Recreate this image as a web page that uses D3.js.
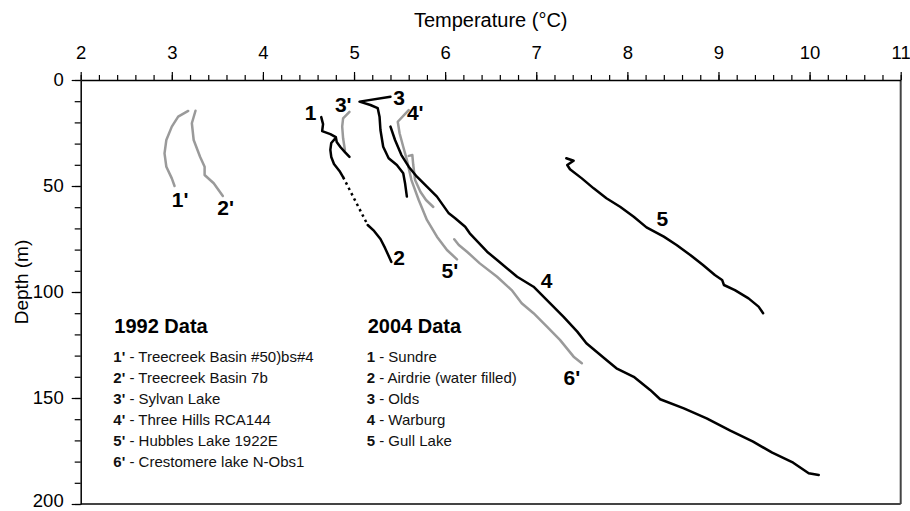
<!DOCTYPE html>
<html>
<head>
<meta charset="utf-8">
<script src="https://cdn.jsdelivr.net/npm/d3@7"></script>
<style>
  html, body { margin: 0; padding: 0; background: #fff; }
  svg { display: block; font-family: "Liberation Sans", Arial, Helvetica, sans-serif; }
</style>
</head>
<body>
<svg id="chart" width="910" height="511"></svg>
<script>
// ---------- DATA (temperature °C, depth m) ----------
const xTicks = [2, 3, 4, 5, 6, 7, 8, 9, 10, 11];
const yTicks = [0, 50, 100, 150, 200];

// 1992 data (grey)
const treecreek50 = [[3.18,14.6],[3.07,17.3],[3.00,22.0],[2.94,28.3],[2.92,34.6],[2.94,40.9],[3.00,46.4],[3.03,50.0]];
const treecreek7b = [[3.26,14.5],[3.22,20.4],[3.24,28.3],[3.31,36.2],[3.36,40.9],[3.36,44.8],[3.46,48.7],[3.56,54.7]];
const sylvanLake  = [[4.95,15.0],[4.88,18.1],[4.87,22.0],[4.88,27.5],[4.90,33.0]];
const threeHills  = [[5.60,14.2],[5.48,19.7],[5.50,25.1],[5.54,31.5],[5.58,37.7],[5.63,47.2],[5.71,56.6],[5.80,66.0],[5.91,73.9],[6.02,80.2],[6.13,84.6]];
const hubblesLake = [[5.60,35.8],[5.64,35.4],[5.65,40.1],[5.67,47.2],[5.73,52.8],[5.79,56.6],[5.87,59.9]];
const crestomere  = [[6.10,75.1],[6.15,77.8],[6.24,81.0],[6.38,86.5],[6.57,92.8],[6.73,99.1],[6.84,105.3],[6.97,110.0],[7.12,116.4],[7.26,122.6],[7.41,130.5],[7.50,133.6]];

// 2004 data (black)
const sundre = [[4.64,17.5],[4.66,20.8],[4.65,24.1],[4.74,25.5],[4.80,26.9],[4.81,29.2],[4.85,31.6],[4.90,34.0],[4.95,36.3]];
const airdrieUpper = [[4.79,27.8],[4.75,29.7],[4.74,33.0],[4.75,36.3],[4.78,39.6],[4.84,42.9],[4.88,45.8]];
const airdrieLower = [[5.15,68.4],[5.22,71.2],[5.29,75.0],[5.34,79.2],[5.41,85.8]];
const olds = [[5.40,7.9],[5.06,10.2],[5.18,11.8],[5.26,13.3],[5.28,17.3],[5.29,23.6],[5.32,31.5],[5.38,36.9],[5.47,40.1],[5.54,44.0],[5.56,48.7],[5.58,55.0]];
const warburg = [[5.40,22.0],[5.45,28.3],[5.52,35.4],[5.60,40.9],[5.69,45.6],[5.80,50.3],[5.91,55.0],[6.04,62.9],[6.11,65.2],[6.22,69.2],[6.27,72.3],[6.46,81.0],[6.57,84.9],[6.79,92.8],[6.97,97.5],[7.15,105.3],[7.30,111.7],[7.45,118.7],[7.55,124.2],[7.77,132.1],[7.88,136.0],[8.07,140.0],[8.25,146.2],[8.36,150.6],[8.62,154.9],[8.87,159.6],[9.13,165.4],[9.38,170.6],[9.59,175.8],[9.82,180.5],[9.99,185.5],[10.10,186.3]];
const gullLake = [[7.33,36.9],[7.41,38.1],[7.34,40.1],[7.37,42.1],[7.50,46.4],[7.63,51.1],[7.77,55.8],[7.92,59.8],[8.07,64.5],[8.21,69.5],[8.40,73.9],[8.54,77.8],[8.69,82.5],[8.83,87.3],[8.96,92.0],[9.04,94.3],[9.06,96.7],[9.18,99.1],[9.33,103.0],[9.44,106.9],[9.49,110.0]];

// curve label anchors [text, temperature, depth]
const curveLabels = [
  ["1'", 3.00, 59.9], ["2'", 3.50, 63.7], ["1", 4.46, 18.9], ["3'", 4.79, 15.1],
  ["3", 5.43, 11.8], ["4'", 5.58, 18.9], ["2", 5.43, 87.3], ["5'", 5.96, 93.4],
  ["4", 7.05, 98.1], ["6'", 7.30, 143.9], ["5", 8.32, 68.9]
];

// legend entries
const legend1992Title = "1992 Data";
const legend1992Keys  = ["1'", "2'", "3'", "4'", "5'", "6'"];
const legend1992Names = ["Treecreek Basin #50)bs#4", "Treecreek Basin 7b", "Sylvan Lake", "Three Hills RCA144", "Hubbles Lake 1922E", "Crestomere lake N-Obs1"];
const legend2004Title = "2004 Data";
const legend2004Keys  = ["1", "2", "3", "4", "5"];
const legend2004Names = ["Sundre", "Airdrie (water filled)", "Olds", "Warburg", "Gull Lake"];

// ---------- DRAWING ----------
const svg = d3.select("#chart");
const x = d3.scaleLinear().domain([2, 11]).range([80.7, 900.7]);
const y = d3.scaleLinear().domain([0, 200]).range([80, 504]);

const line = d3.line().x(d => x(d[0])).y(d => y(d[1]));

// frame (right & bottom)
svg.append("line").attr("x1", x(11)).attr("x2", x(11)).attr("y1", y(0)).attr("y2", y(200))
  .attr("stroke", "#444").attr("stroke-width", 2);
svg.append("line").attr("x1", x(2)).attr("x2", x(11)).attr("y1", y(200)).attr("y2", y(200))
  .attr("stroke", "#444").attr("stroke-width", 2);

// top axis: minor ticks
const topMinor = svg.append("g").attr("transform", `translate(0,${y(0)})`)
  .call(d3.axisTop(x).tickValues(d3.range(2, 11.001, 0.2)).tickSize(5).tickSizeOuter(0).tickFormat(""));
topMinor.select(".domain").remove();
// top axis: major
svg.append("g").attr("transform", `translate(0,${y(0)})`)
  .call(d3.axisTop(x).tickValues(xTicks).tickSize(8).tickSizeOuter(0).tickPadding(13).tickFormat(d3.format("d")));
// left axis: minor
const leftMinor = svg.append("g").attr("transform", `translate(${x(2)},0)`)
  .call(d3.axisLeft(y).tickValues(d3.range(0, 200.001, 10)).tickSize(6).tickSizeOuter(0).tickFormat(""));
leftMinor.select(".domain").remove();
svg.append("g").attr("transform", `translate(${x(2)},0)`)
  .call(d3.axisLeft(y).tickValues(yTicks).tickSize(9).tickSizeOuter(0).tickPadding(8).tickFormat(d3.format("d")));

svg.selectAll(".tick line").attr("stroke", "#000").attr("stroke-width", 1.2);
svg.selectAll(".domain").attr("stroke", "#000").attr("stroke-width", 1.5);
svg.selectAll(".tick text").attr("font-size", 18.5).attr("fill", "#000")
  .attr("font-family", "'Liberation Sans', Arial, Helvetica, sans-serif");
svg.selectAll(".tick text").filter(d => d === 200).attr("dy", "0.12em");

// axis titles
svg.append("text").attr("x", (x(2) + x(11)) / 2).attr("y", 27).attr("text-anchor", "middle")
  .attr("font-size", 20).text("Temperature (°C)");
svg.append("text").attr("transform", `translate(28,${282}) rotate(-90)`).attr("text-anchor", "middle")
  .attr("font-size", 19).text("Depth (m)");

// curves
const grey = "#9a9a9a";
const series = [
  [treecreek50, grey], [treecreek7b, grey], [sylvanLake, grey], [threeHills, grey],
  [hubblesLake, grey], [crestomere, grey],
  [sundre, "#000"], [airdrieUpper, "#000"], [airdrieLower, "#000"], [olds, "#000"],
  [warburg, "#000"], [gullLake, "#000"]
];
svg.append("g").selectAll("path").data(series).join("path")
  .attr("d", d => line(d[0])).attr("fill", "none").attr("stroke", d => d[1])
  .attr("stroke-width", 2.5).attr("stroke-linejoin", "round").attr("stroke-linecap", "round");
// dotted gap of Airdrie
svg.append("path").attr("d", line([airdrieUpper[airdrieUpper.length - 1], airdrieLower[0]]))
  .attr("fill", "none").attr("stroke", "#000").attr("stroke-width", 2.5).attr("stroke-dasharray", "2.5,3.5");

// curve labels
svg.append("g").selectAll("text").data(curveLabels).join("text")
  .attr("x", d => x(d[1])).attr("y", d => y(d[2]))
  .attr("font-size", 21).attr("font-weight", "bold").text(d => d[0]);

// legends
function drawLegend(x0, title, keys, names) {
  const g = svg.append("g");
  g.append("text").attr("x", x0 + 1).attr("y", 333).attr("font-size", 20).attr("font-weight", "bold").text(title);
  keys.forEach((k, i) => {
    const t = g.append("text").attr("x", x0).attr("y", 362.3 + i * 20.9).attr("font-size", 15).attr("fill", "#111");
    t.append("tspan").attr("font-weight", "bold").text(k);
    t.append("tspan").text(" - " + names[i]);
  });
}
drawLegend(113.3, legend1992Title, legend1992Keys, legend1992Names);
drawLegend(366.7, legend2004Title, legend2004Keys, legend2004Names);
</script>
</body>
</html>
